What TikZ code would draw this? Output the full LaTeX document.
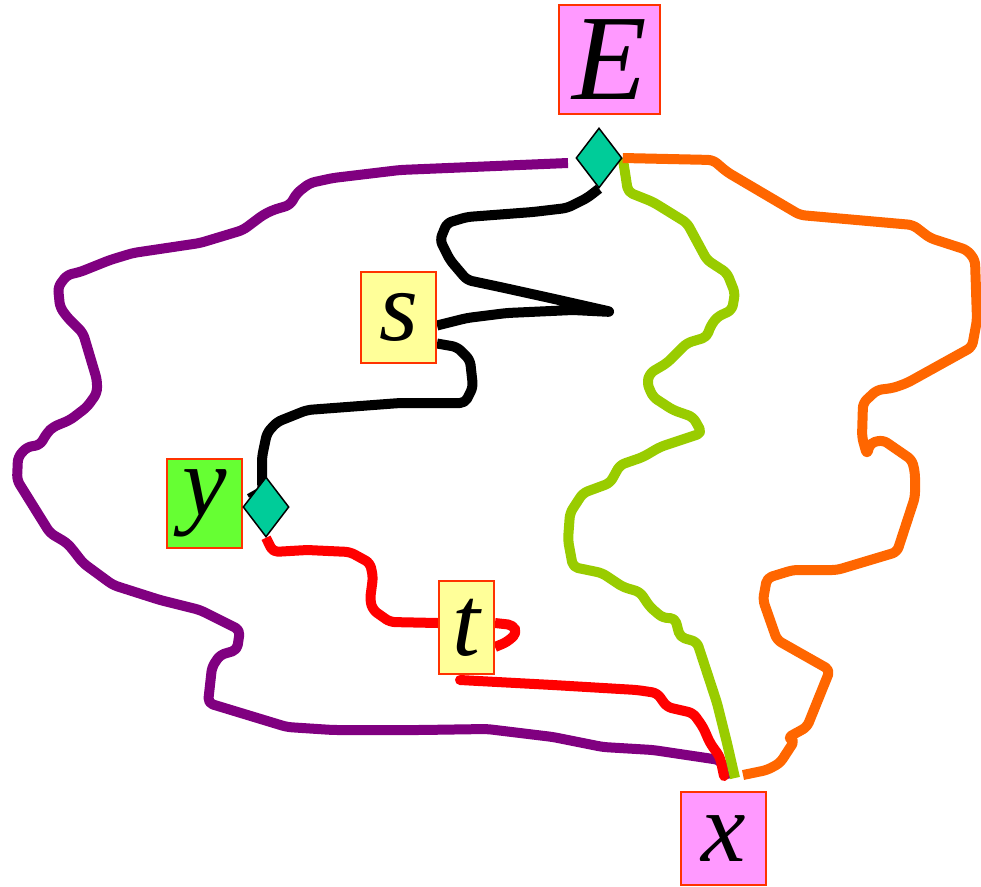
\documentclass[tikz,border=0pt]{standalone}
\usepackage{fontspec}
\setmainfont{Liberation Serif}
\usetikzlibrary{shapes.geometric}
\pgfdeclarelayer{bg}
\pgfsetlayers{bg,main}
\definecolor{cpurple}{HTML}{800080}
\definecolor{cred}{HTML}{FF0000}
\definecolor{cgreen}{HTML}{99CC00}
\definecolor{corange}{HTML}{FF6600}
\definecolor{cdiam}{HTML}{00CC99}
\definecolor{cborder}{HTML}{FF3300}
\definecolor{cpink}{HTML}{FF99FF}
\definecolor{cyellow}{HTML}{FFFF99}
\definecolor{cgbox}{HTML}{66FF33}
\tikzset{
  lbl/.style={draw=cborder, line width=2pt, inner sep=0pt, font=\fontsize{100}{102}\selectfont\itshape},
  diam/.style={diamond, draw=black, line width=1.5pt, fill=cdiam, inner sep=0pt, minimum width=46pt, minimum height=60pt},
  walk/.style={line width=10pt, rounded corners=5pt, line join=round}
}
\begin{document}
\begin{tikzpicture}[x=1pt,y=-1pt]
\useasboundingbox (0,0) rectangle (981,886);
\node[lbl, fill=cpink, minimum width=101pt, minimum height=109pt, font=\fontsize{122}{124}\selectfont\itshape] (E) at (609.5,59.5) {\raisebox{-3pt}{E}};
\node[lbl, fill=cyellow, minimum width=75pt, minimum height=91pt] (s) at (398.5,317.5) {s};
\node[lbl, fill=cgbox, minimum width=75pt, minimum height=89pt] (y) at (204.5,503.5) {\raisebox{4pt}{y}};
\node[lbl, fill=cyellow, minimum width=55pt, minimum height=93pt] (t) at (466.5,627.5) {t};
\node[lbl, fill=cpink, minimum width=85pt, minimum height=93pt] (x) at (723.5,838.5) {x};
\node[diam] (Ed) at (599,158) {};
\node[diam] (yd) at (266,507) {};
\coordinate (pS) at (568,163);
\coordinate (xP) at (727,779);
\coordinate (xR) at (724,776);
\coordinate (xG) at (735,778);
\coordinate (xO) at (743,775);
\coordinate (tip) at (612,312);
\begin{pgfonlayer}{bg}
% purple
\draw[walk, cpurple] (pS) -- (400,170) -- (333,178) -- (310,183) -- (297,193) -- (290,205) -- (273,210) -- (263,215) -- (243,230) -- (200,243) -- (133,253) -- (110,260) -- (80,272) -- (67,275) -- (58,287) -- (60,307) -- (67,317) -- (83,333) -- (97,380) -- (97,393) -- (87,407) -- (70,420) -- (53,427) -- (47,433) -- (40,445) -- (27,447) -- (18,457) -- (17,480) -- (50,533) -- (67,543) -- (73,550) -- (83,563) -- (113,585) -- (160,600) -- (200,610) -- (240,630) -- (237,650) -- (220,655) -- (212,667) -- (208,703) -- (287,727) -- (333,730) -- (420,730) -- (487,729) -- (553,737) -- (603,747) -- (653,750) -- (720,760) -- (725,770) -- (xP);
% black
\draw[walk, black] (Ed.south) -- (587,198) -- (567,208) -- (533,212) -- (467,217) -- (447,223) -- (440,240) -- (450,260) -- (467,280) -- (500,287) -- (550,298) -- (tip) -- (573,310) -- (507,313) -- (467,318) -- ([yshift=-8pt]s.east);
\draw[walk, black] ([yshift=-26pt]s.east) -- (457,347) -- (470,360) -- (473,387) -- (465,403) -- (400,403) -- (307,410) -- (277,422) -- (267,433) -- (262,457) -- (262,485) -- (yd.center);
\draw[line width=4pt, black] (262,488) -- (248,496);
% red
\draw[walk, cred] (yd.south) -- (273,552) -- (307,550) -- (350,552) -- (370,563) -- (373,577) -- (370,600) -- (373,610) -- (390,622) -- (t.west|-0,623);
\draw[walk, cred] (t.east|-0,623) -- (513,625) -- (517,633) -- (507,642) -- (t.east|-0,647);
\draw[walk, cred, line cap=round] (460,680) -- (553,685) -- (637,690) -- (657,693) -- (667,707) -- (693,713) -- (703,727) -- (710,743) -- (720,757) -- (xR);
% green
\draw[walk, cgreen] (Ed.east) -- (628,192) -- (653,202) -- (687,223) -- (707,260) -- (727,273) -- (735,293) -- (732,310) -- (717,317) -- (710,327) -- (707,337) -- (687,343) -- (667,363) -- (650,373) -- (647,383) -- (653,397) -- (673,410) -- (693,417) -- (702,433) -- (660,447) -- (643,457) -- (620,465) -- (610,483) -- (583,493) -- (570,513) -- (568,540) -- (573,567) -- (602,573) -- (623,587) -- (640,592) -- (650,607) -- (663,618) -- (675,618) -- (680,637) -- (697,642) -- (717,703) -- (727,743) -- (xG);
% orange
\draw[walk, corange] (Ed.east) -- (713,160) -- (727,172) -- (800,215) -- (913,225) -- (930,238) -- (967,250) -- (975,260) -- (977,320) -- (972,347) -- (907,383) -- (893,388) -- (877,390) -- (863,403) -- (862,437) -- (867,455) -- (870,443) -- (883,440) -- (912,460) -- (915,473) -- (915,497) -- (897,552) -- (837,570) -- (793,570) -- (767,578) -- (763,600) -- (777,640) -- (830,670) -- (807,727) -- (787,738) -- (795,740) -- (780,763) -- (767,770) -- (xO);
\end{pgfonlayer}
\end{tikzpicture}
\end{document}
